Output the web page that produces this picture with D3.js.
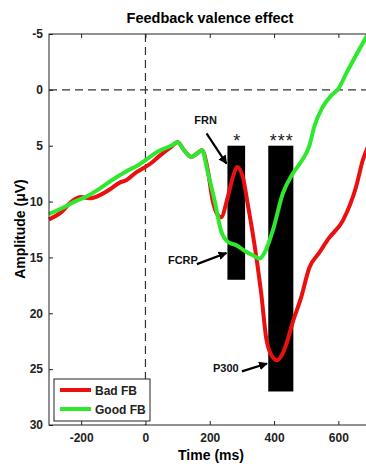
<!DOCTYPE html>
<html>
<head>
<meta charset="utf-8">
<title>Feedback valence effect</title>
<script src="https://d3js.org/d3.v7.min.js"></script>
<style>
  body { margin: 0; background: #fff; }
  text { font-family: Arial, "Liberation Sans", sans-serif; }
</style>
</head>
<body>
<div id="chart"></div>
<script>
// data (time in ms, amplitude in uV)
var badTimes = [-300, -260, -230, -200, -170, -140, -110, -80, -60, -30, 0, 20, 40, 80, 100, 120, 143, 160, 176, 194, 209, 225, 235, 256, 272, 285, 303, 318, 334, 349, 360, 376, 395, 410, 425, 440, 457, 484, 510, 540, 570, 614, 655, 676, 700];
var badFB = [11.6, 10.9, 10.0, 9.6, 9.7, 9.4, 8.9, 8.3, 8.1, 7.4, 6.9, 6.5, 6.0, 5.1, 4.7, 5.4, 6.0, 5.7, 5.4, 7.2, 9.9, 11.2, 11.4, 9.6, 7.8, 6.9, 7.8, 10.2, 12.9, 15.8, 18.2, 22.3, 23.9, 24.2, 23.7, 22.6, 20.9, 18.6, 15.9, 14.6, 13.3, 11.7, 8.7, 6.3, 4.6];

var goodTimes = [-300, -260, -220, -180, -140, -100, -60, -20, 0, 40, 80, 100, 120, 143, 160, 176, 194, 215, 235, 256, 282, 313, 340, 355, 370, 396, 427, 458, 485, 510, 525, 550, 578, 600, 625, 655, 684, 700];
var goodFB = [11.1, 10.6, 10.0, 9.5, 8.8, 8.0, 7.3, 6.7, 6.3, 5.5, 5.0, 4.7, 5.4, 6.0, 5.7, 5.4, 7.4, 9.9, 12.6, 13.6, 13.9, 14.5, 14.9, 15.1, 14.6, 12.6, 9.3, 7.5, 6.4, 5.0, 3.3, 1.6, 0.5, -0.1, -1.5, -3.1, -4.6, -5.4];

var seriesNames = ["Bad FB", "Good FB"];
var seriesColors = ["#ea1010", "#2ee82e"];

// significance windows: start ms, end ms, top uV, bottom uV, label
var barStart = [255, 382];
var barEnd = [310, 460];
var barTop = [5, 5];
var barBottom = [17, 27];
var barStars = ["*", "***"];

var xTicks = [-200, 0, 200, 400, 600];
var yTicks = [-5, 0, 5, 10, 15, 20, 25, 30];

// component annotations: label position and arrow in data units
var annLabels = ["FRN", "FCRP", "P300"];
var annText = [[187, 3.1], [70, 15.6], [210, 25.3]];
var annFrom = [[190, 3.9], [160, 15.6], [300, 25.2]];
var annTo = [[252, 6.6], [252, 14.6], [378, 24.5]];

var W = 366, H = 464;
var svg = d3.select("#chart").append("svg")
    .attr("width", W).attr("height", H);

var x = d3.scaleLinear().domain([-300, 700]).range([49, 370.5]);
var y = d3.scaleLinear().domain([-5, 30]).range([34, 425]);

// title
svg.append("text")
    .attr("x", 210).attr("y", 23)
    .attr("text-anchor", "middle")
    .style("font-size", "14.5px").style("font-weight", "bold")
    .text("Feedback valence effect");

// axis labels
svg.append("text")
    .attr("transform", "translate(25,229)rotate(-90)")
    .attr("text-anchor", "middle")
    .style("font-size", "14px").style("font-weight", "bold")
    .text("Amplitude (\u03bcV)");
svg.append("text")
    .attr("x", 211).attr("y", 460)
    .attr("text-anchor", "middle")
    .style("font-size", "14px").style("font-weight", "bold")
    .text("Time (ms)");

// reference dashed lines
svg.append("line")
    .attr("x1", x(-300)).attr("x2", x(700))
    .attr("y1", y(0)).attr("y2", y(0))
    .attr("stroke", "#333").attr("stroke-width", 1.2)
    .attr("stroke-dasharray", "8,5");
svg.append("line")
    .attr("x1", x(0)).attr("x2", x(0))
    .attr("y1", y(-5)).attr("y2", y(30))
    .attr("stroke", "#333").attr("stroke-width", 1.2)
    .attr("stroke-dasharray", "8,5");

// significance bars
barStart.forEach(function(s, i) {
    svg.append("rect")
        .attr("x", x(s)).attr("y", y(barTop[i]))
        .attr("width", x(barEnd[i]) - x(s))
        .attr("height", y(barBottom[i]) - y(barTop[i]))
        .attr("fill", "#000");
    svg.append("text")
        .attr("x", x((s + barEnd[i]) / 2) + 1).attr("y", y(barTop[i]) + 1)
        .attr("text-anchor", "middle")
        .style("font-size", "18px").style("letter-spacing", "1px")
        .attr("fill", "#222")
        .text(barStars[i]);
});

// waveforms
var line = d3.line()
    .x(function(d) { return x(d[0]); })
    .y(function(d) { return y(d[1]); })
    .curve(d3.curveMonotoneX);

var badData = badTimes.map(function(t, i) { return [t, badFB[i]]; });
var goodData = goodTimes.map(function(t, i) { return [t, goodFB[i]]; });

svg.append("path").datum(badData)
    .attr("d", line).attr("fill", "none")
    .attr("stroke", seriesColors[0]).attr("stroke-width", 4)
    .attr("stroke-linejoin", "round");
svg.append("path").datum(goodData)
    .attr("d", line).attr("fill", "none")
    .attr("stroke", seriesColors[1]).attr("stroke-width", 4)
    .attr("stroke-linejoin", "round");

// arrows
svg.append("defs").append("marker")
    .attr("id", "head").attr("viewBox", "0 0 10 10")
    .attr("refX", 9).attr("refY", 5)
    .attr("markerWidth", 4).attr("markerHeight", 4)
    .attr("orient", "auto")
  .append("path").attr("d", "M0,0L10,5L0,10z").attr("fill", "#000");

annLabels.forEach(function(lab, i) {
    svg.append("text")
        .attr("x", x(annText[i][0])).attr("y", y(annText[i][1]))
        .attr("text-anchor", i === 0 ? "middle" : "start")
        .style("font-size", "11px").style("font-weight", "bold")
        .attr("fill", "#111")
        .text(lab);
    svg.append("line")
        .attr("x1", x(annFrom[i][0])).attr("y1", y(annFrom[i][1]))
        .attr("x2", x(annTo[i][0])).attr("y2", y(annTo[i][1]))
        .attr("stroke", "#000").attr("stroke-width", 2.2)
        .attr("marker-end", "url(#head)");
});

// axes box (matlab style, ticks inside)
svg.append("rect")
    .attr("x", x(-300)).attr("y", y(-5))
    .attr("width", x(700) - x(-300)).attr("height", y(30) - y(-5))
    .attr("fill", "none").attr("stroke", "#222").attr("stroke-width", 1);

var fmt = function(d) { return String(d); };
var axBottom = svg.append("g")
    .attr("transform", "translate(0," + y(30) + ")")
    .call(d3.axisBottom(x).tickValues(xTicks).tickSize(-4).tickPadding(8).tickFormat(fmt));
var axTop = svg.append("g")
    .attr("transform", "translate(0," + y(-5) + ")")
    .call(d3.axisTop(x).tickValues(xTicks).tickSize(-4).tickFormat(""));
var axLeft = svg.append("g")
    .attr("transform", "translate(" + x(-300) + ",0)")
    .call(d3.axisLeft(y).tickValues(yTicks).tickSize(-4).tickPadding(6).tickFormat(fmt));

[axBottom, axTop, axLeft].forEach(function(g) {
    g.select(".domain").remove();
    g.selectAll("line").attr("stroke", "#222");
    g.selectAll("text")
        .style("font-family", "Arial, 'Liberation Sans', sans-serif")
        .style("font-size", "12px").style("font-weight", "bold")
        .attr("fill", "#222");
});

// legend
var leg = svg.append("g").attr("transform", "translate(54,379)");
leg.append("rect")
    .attr("width", 96).attr("height", 42)
    .attr("fill", "#fff").attr("stroke", "#222").attr("stroke-width", 1);
seriesNames.forEach(function(name, i) {
    leg.append("line")
        .attr("x1", 6).attr("x2", 37)
        .attr("y1", 11 + i * 19).attr("y2", 11 + i * 19)
        .attr("stroke", seriesColors[i]).attr("stroke-width", 4);
    leg.append("text")
        .attr("x", 41).attr("y", 15.5 + i * 19)
        .style("font-size", "12px").style("font-weight", "bold")
        .attr("fill", "#222")
        .text(name);
});
</script>
</body>
</html>
